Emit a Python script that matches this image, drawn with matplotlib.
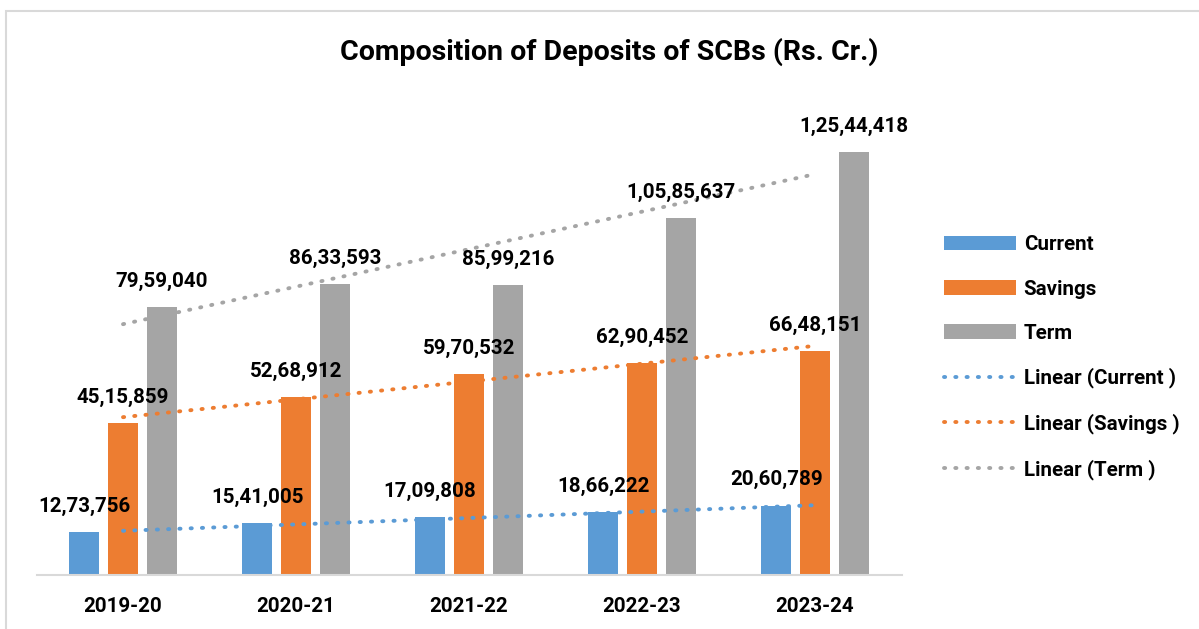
import matplotlib
matplotlib.use("Agg")
import matplotlib.pyplot as plt
from matplotlib.patches import Rectangle
import numpy as np

# data (Rs. Cr.)
years = ["2019-20", "2020-21", "2021-22", "2022-23", "2023-24"]
current = [1273756, 1541005, 1709808, 1866222, 2060789]
savings = [4515859, 5268912, 5970532, 6290452, 6648151]
term = [7959040, 8633593, 8599216, 10585637, 12544418]
series_names = ["Current", "Savings", "Term"]
colors = ["#5B9BD5", "#ED7D31", "#A5A5A5"]


def indian_fmt(n):
    s = str(int(n))
    if len(s) <= 3:
        return s
    head, tail = s[:-3], s[-3:]
    parts = []
    while len(head) > 2:
        parts.insert(0, head[-2:])
        head = head[:-2]
    if head:
        parts.insert(0, head)
    return ",".join(parts) + "," + tail


plt.rcParams["font.family"] = ["Roboto", "DejaVu Sans"]
plt.rcParams["font.weight"] = "bold"

fig = plt.figure(figsize=(11.99, 6.29), dpi=100)
ax = fig.add_axes([36.5 / 1199, 54 / 629, 865 / 1199, 472 / 629])

x = np.arange(len(years))
width = 0.175
offset = 0.225
data = [current, savings, term]
fs = 14.8

bars = []
for i, (vals, name, col) in enumerate(zip(data, series_names, colors)):
    pos = x + (i - 1) * offset
    b = ax.bar(pos, vals, width, color=col, label=name, zorder=2)
    bars.append(b)
    for px, v in zip(pos, vals):
        ax.annotate(indian_fmt(v), (px, v), xytext=(0, 18.5),
                    textcoords="offset points", ha="center", va="center",
                    fontsize=fs, fontweight="bold", color="black", zorder=4)

# linear trend lines
trend_handles = []
for vals, name, col in zip(data, series_names, colors):
    k, c = np.polyfit(x, vals, 1)
    ln, = ax.plot(x, k * x + c, color=col, lw=2.8,
                  linestyle=(0, (0.3, 2.6)), dash_capstyle="round",
                  label="Linear (%s )" % name, zorder=3)
    trend_handles.append(ln)

ax.set_xlim(-0.5, 4.5)
ax.set_ylim(0, 14e6)
ax.set_xticks(x)
ax.set_xticklabels(years, fontsize=fs, fontweight="bold")
ax.tick_params(axis="x", length=0, pad=16)
ax.set_yticks([])
for s in ["top", "right", "left"]:
    ax.spines[s].set_visible(False)
ax.spines["bottom"].set_color("#D9D9D9")
ax.spines["bottom"].set_linewidth(1.5)

fig.text(609 / 1199, 1 - 52 / 629, "Composition of Deposits of SCBs (Rs. Cr.)",
         ha="center", va="center", fontsize=20.5, fontweight="bold")

handles = bars + trend_handles
labels = series_names + ["Linear (%s )" % n for n in series_names]
fig.legend(handles, labels, loc="upper left",
           bbox_to_anchor=(925 / 1199, 1 - 217 / 629), frameon=False,
           fontsize=fs, handlelength=3.55, handleheight=0.7,
           handletextpad=0.35, labelspacing=1.22)

# outer chart border (only top and left edges visible in the crop)
fig.add_artist(Rectangle((6 / 1199, -0.1), 1.2, 1.1 - 11 / 629,
                         transform=fig.transFigure, fill=False,
                         edgecolor="#D9D9D9", lw=1.5))

fig.savefig("out.png", dpi=100)
